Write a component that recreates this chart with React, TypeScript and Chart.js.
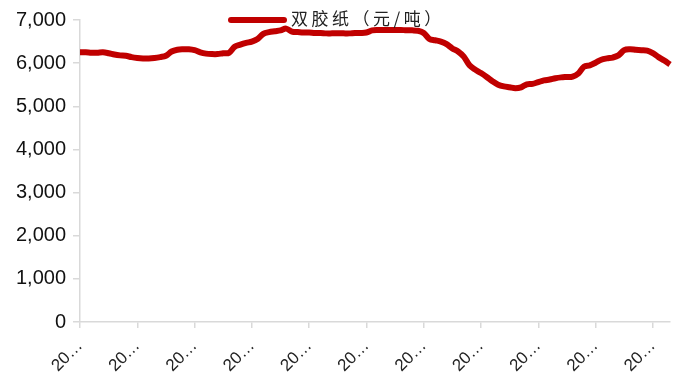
import React, { useEffect, useRef } from "react";
import { Chart, registerables } from "chart.js";

Chart.register(...registerables);

const seriesName = "双胶纸（元/吨）";

const categories: string[] = Array.from({ length: 104 }, (_, i) => {
  const d = new Date(2015, 0, 1 + i * 7);
  return `${d.getFullYear()}-${String(d.getMonth() + 1).padStart(2, "0")}-${String(d.getDate()).padStart(2, "0")}`;
});

const values: number[] = [
  6250, 6250, 6240, 6240, 6250, 6230, 6200, 6180, 6170, 6140,
  6120, 6110, 6110, 6120, 6140, 6170, 6270, 6310, 6320, 6320,
  6300, 6250, 6220, 6210, 6210, 6230, 6240, 6380, 6430, 6470,
  6500, 6560, 6680, 6720, 6740, 6760, 6800, 6730, 6720, 6710,
  6710, 6700, 6700, 6690, 6690, 6690, 6690, 6690, 6700, 6700,
  6710, 6760, 6770, 6770, 6770, 6770, 6770, 6760, 6760, 6750,
  6700, 6560, 6530, 6500, 6440, 6340, 6270, 6150, 5950, 5850,
  5770, 5680, 5580, 5500, 5460, 5440, 5420, 5440, 5510, 5520,
  5560, 5600, 5620, 5650, 5670, 5680, 5690, 5760, 5920, 5950,
  6010, 6080, 6110, 6130, 6180, 6300, 6320, 6310, 6300, 6290,
  6230, 6140, 6060, 5970,
];

const yTicks: number[] = [0, 1000, 2000, 3000, 4000, 5000, 6000, 7000];
const xTickEvery = 10;
const xTickText = "20…";

const lineColor = "#c00000";
const axisColor = "#d9d9d9";

const legendPlugin = {
  id: "customLegend",
  afterDatasetsDraw(chart: any) {
    const ctx = chart.ctx;
    ctx.save();
    ctx.strokeStyle = lineColor;
    ctx.lineWidth = 6;
    ctx.lineCap = "round";
    ctx.beginPath();
    ctx.moveTo(231, 20);
    ctx.lineTo(284, 20);
    ctx.stroke();
    ctx.fillStyle = "#222";
    ctx.font = '17px "Noto Sans CJK SC", sans-serif';
    ctx.textBaseline = "middle";
    ctx.textAlign = "left";
    try {
      (ctx as any).letterSpacing = "3.5px";
    } catch (e) {}
    ctx.fillText(seriesName, 291, 19);
    ctx.restore();
  },
};

export default function App() {
  const ref = useRef<HTMLCanvasElement | null>(null);

  useEffect(() => {
    if (!ref.current) return;
    const chart = new Chart(ref.current, {
      type: "line",
      data: {
        labels: categories,
        datasets: [
          {
            label: seriesName,
            data: values,
            borderColor: lineColor,
            backgroundColor: lineColor,
            borderWidth: 6,
            pointRadius: 0,
            tension: 0.35,
            fill: false,
          },
        ],
      },
      options: {
        animation: false,
        responsive: false,
        maintainAspectRatio: false,
        layout: { padding: { left: 0, right: 9, top: 20, bottom: 0 } },
        plugins: {
          legend: { display: false },
          tooltip: { enabled: false },
        },
        scales: {
          x: {
            type: "category",
            offset: false,
            afterFit: (scale: any) => {
              scale.height = 61;
            },
            grid: {
              display: true,
              drawOnChartArea: false,
              drawTicks: true,
              tickLength: 6,
              color: axisColor,
              lineWidth: 1.5,
            },
            border: { display: true, color: axisColor, width: 1.5 },
            ticks: {
              autoSkip: false,
              minRotation: 45,
              maxRotation: 45,
              padding: 8,
              color: "#222",
              font: { family: "Liberation Sans, Arial, sans-serif", size: 17 },
              callback: (_v: any, i: number) => (i % xTickEvery === 0 ? xTickText : null),
            },
          },
          y: {
            min: 0,
            max: 7000,
            afterFit: (scale: any) => {
              scale.width = 80;
            },
            afterBuildTicks: (scale: any) => {
              scale.ticks = yTicks.map((v) => ({ value: v }));
            },
            grid: {
              display: true,
              drawOnChartArea: false,
              drawTicks: true,
              tickLength: 7,
              color: axisColor,
              lineWidth: 1.5,
            },
            border: { display: true, color: axisColor, width: 1.5 },
            ticks: {
              padding: 7,
              color: "#111",
              font: { family: "Liberation Sans, Arial, sans-serif", size: 20 },
              callback: (v: any) => Number(v).toLocaleString("en-US"),
            },
          },
        },
      },
      plugins: [legendPlugin],
    });
    return () => chart.destroy();
  }, []);

  return (
    <div style={{ position: "fixed", left: 0, top: 0, width: 679, height: 383, background: "#fff" }}>
      <canvas ref={ref} width={679} height={383} style={{ display: "block", width: 679, height: 383 }} />
    </div>
  );
}
